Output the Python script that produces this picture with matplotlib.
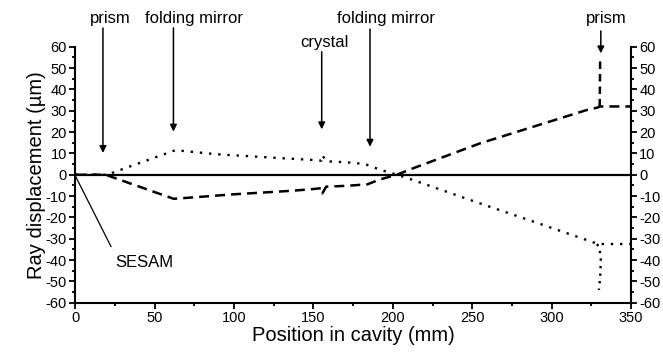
import numpy as np
import matplotlib
matplotlib.use("Agg")
import matplotlib.pyplot as plt
from matplotlib.ticker import MultipleLocator

plt.rcParams['font.family'] = ['Liberation Sans', 'DejaVu Sans']
plt.rcParams['axes.unicode_minus'] = False

# dashed ray (upper at the end)
dash_x = [0, 19, 62, 99.5, 137, 150, 155, 155.6, 158, 171, 184, 192, 202.6, 212.7, 254.9, 322, 329, 330.5, 350]
dash_y = [0, 0, -11.3, -9.2, -7.5, -6.7, -6.3, -8.8, -5.6, -5.2, -4.5, -2.2, 0, 3.0, 14.7, 30.3, 31.5, 32, 32]
dash_spike_x = [330.3, 330.6]
dash_spike_y = [32, 55]

# dotted ray (lower at the end)
dot_x = [0, 20, 63, 89, 131, 150, 155, 155.6, 158, 171, 182.5, 188, 194, 202.6, 212, 252.8, 293.7, 328.3, 331, 350]
dot_y = [0, 0, 11.5, 9.6, 7.7, 6.9, 6.6, 9.2, 6.3, 5.8, 5.0, 3.4, 1.9, 0, -2.3, -12.9, -23.3, -32.2, -32.5, -32.5]
dot_spike_x = [328.6, 330.2, 331, 330.6, 329.8]
dot_spike_y = [-32.5, -34.5, -40, -48, -54]

# annotations: label, arrow x, arrow start, arrow tip, text x, text y
labels = ['prism', 'folding mirror', 'crystal', 'folding mirror', 'prism']
arrow_x = [17.4, 61.8, 155.2, 185.6, 331]
arrow_top = [68.8, 68.8, 57.7, 68.3, 67.4]
arrow_tip = [10.2, 20.2, 21.3, 13.1, 56.9]
text_x = [22, 74.8, 157, 196, 334.5]
text_y = [71, 71, 60, 71, 71]

fig = plt.figure(figsize=(6.63, 3.54), dpi=100)
ax = fig.add_axes([0.1136, 0.1449, 0.8381, 0.7231])

ax.axhline(0, color='k', lw=1.6, zorder=1)
ax.plot(dash_x, dash_y, color='k', lw=1.8, dashes=(4, 2.4))
ax.plot(dash_spike_x, dash_spike_y, color='k', lw=1.8, dashes=(3, 2))
ax.plot(dot_x, dot_y, color='k', lw=1.7, linestyle=(0, (1, 2.9)))
ax.plot(dot_spike_x, dot_spike_y, color='k', lw=1.7, linestyle=(0, (1, 2.2)))

for lab, ax_x, a0, a1, tx, ty in zip(labels, arrow_x, arrow_top, arrow_tip, text_x, text_y):
    ax.annotate('', xy=(ax_x, a1), xytext=(ax_x, a0), annotation_clip=False,
                arrowprops=dict(arrowstyle='-|>', color='k', lw=1.1,
                                mutation_scale=10, shrinkA=0, shrinkB=0))
    ax.text(tx, ty, lab, ha='center', va='baseline', fontsize=12, clip_on=False)

ax.annotate('', xy=(0.2, -0.8), xytext=(22.5, -33.7),
            arrowprops=dict(arrowstyle='-', color='k', lw=0.9, shrinkA=0, shrinkB=0))
ax.text(25, -43.1, 'SESAM', ha='left', va='baseline', fontsize=12)

ax.set_xlim(0, 350)
ax.set_ylim(-60, 60)
ax.xaxis.set_major_locator(MultipleLocator(50))
ax.xaxis.set_minor_locator(MultipleLocator(25))
ax.yaxis.set_major_locator(MultipleLocator(10))
ax.yaxis.set_minor_locator(MultipleLocator(5))

ax.spines['top'].set_visible(False)
for s in ['left', 'right', 'bottom']:
    ax.spines[s].set_linewidth(1.5)

ax.tick_params(which='both', direction='out', right=True, labelright=True,
               width=1.3, labelsize=10.5, pad=2)
ax.tick_params(which='major', length=4)
ax.tick_params(which='minor', length=2.5)

ax.set_xlabel('Position in cavity (mm)', fontsize=14.5, labelpad=1)
ax.set_ylabel('Ray displacement (\u00b5m)', fontsize=14.5, labelpad=0)

fig.savefig('out.png', dpi=100, facecolor='white')
